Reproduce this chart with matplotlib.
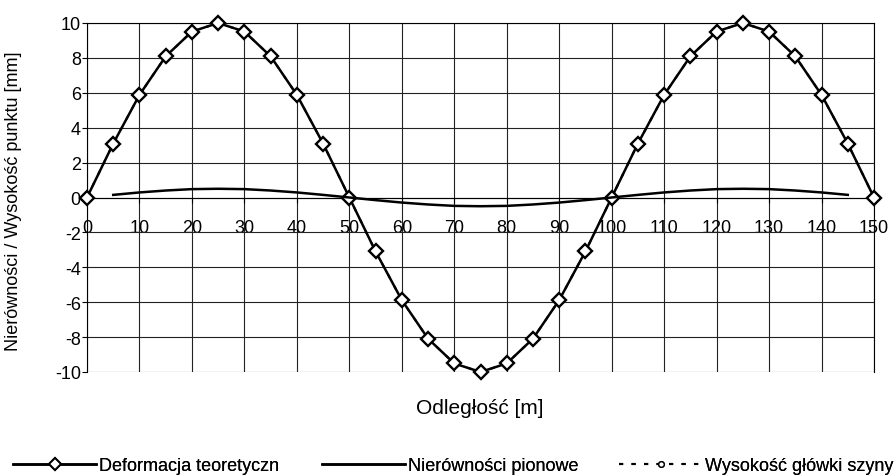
import matplotlib
matplotlib.use("Agg")
import matplotlib.pyplot as plt
from matplotlib.lines import Line2D

plt.rcParams['font.family'] = ['Liberation Sans', 'DejaVu Sans']
plt.rcParams['axes.unicode_minus'] = False

x = [0, 5, 10, 15, 20, 25, 30, 35, 40, 45, 50, 55, 60, 65, 70, 75, 80, 85, 90, 95,
     100, 105, 110, 115, 120, 125, 130, 135, 140, 145, 150]
deformacja = [0, 3.09, 5.88, 8.09, 9.51, 10, 9.51, 8.09, 5.88, 3.09,
              0, -3.09, -5.88, -8.09, -9.51, -10, -9.51, -8.09, -5.88, -3.09,
              0, 3.09, 5.88, 8.09, 9.51, 10, 9.51, 8.09, 5.88, 3.09, 0]
x_nier = [5, 10, 15, 20, 25, 30, 35, 40, 45, 50, 55, 60, 65, 70, 75, 80, 85, 90, 95,
          100, 105, 110, 115, 120, 125, 130, 135, 140, 145]
nierownosci = [0.15, 0.29, 0.40, 0.48, 0.50, 0.48, 0.40, 0.29, 0.15,
               0, -0.15, -0.29, -0.40, -0.48, -0.50, -0.48, -0.40, -0.29, -0.15,
               0, 0.15, 0.29, 0.40, 0.48, 0.50, 0.48, 0.40, 0.29, 0.15]
wysokosc = deformacja

x_ticks = list(range(0, 151, 10))
y_ticks = list(range(-10, 11, 2))
labels = ['Deformacja teoretyczn', 'Nierówności pionowe', 'Wysokość główki szyny']

fig = plt.figure(figsize=(8.96, 4.77), dpi=100)
ax = fig.add_axes([87/896, 1-373/477, (874-87)/896, (373-24)/477])

ax.plot(x, wysokosc, color='black', lw=1.5, ls=(0, (2, 4)), marker='o', ms=4,
        mfc='white', mec='black', zorder=2, clip_on=False)
ax.plot(x, deformacja, color='black', lw=1.8, marker='D', ms=7.5,
        mfc='white', mec='black', mew=1.7, zorder=3, clip_on=False)
ax.plot(x_nier, nierownosci, color='black', lw=1.8, zorder=4, clip_on=False)

ax.set_xlim(0, 150)
ax.set_ylim(-10, 10)
ax.set_xticks(x_ticks)
ax.set_yticks(y_ticks)
ax.grid(True, color='#222222', lw=0.8)
for s in ['top', 'right', 'left']:
    ax.spines[s].set_linewidth(0.8)
ax.spines['bottom'].set_position(('data', 0))
ax.spines['bottom'].set_linewidth(0.8)
ax.tick_params(axis='both', labelsize=13, direction='out', length=3.5, width=0.8)
ax.tick_params(axis='x', pad=12)
ax.tick_params(axis='y', pad=1)
ax.set_axisbelow(True)

fig.text(14/896, 1-201/477, 'Nierówności / Wysokość punktu [mm]', rotation=90,
         ha='center', va='center', fontsize=13)
fig.text(480/896, 1-409/477, 'Odległość [m]', ha='center', va='center', fontsize=15)

handles = [
    Line2D([], [], color='black', lw=1.8, marker='D', ms=6, mfc='white', mec='black', mew=1.4),
    Line2D([], [], color='black', lw=1.8),
    Line2D([], [], color='black', lw=1.5, ls=(0, (2, 4)), marker='o', ms=4, mfc='white', mec='black'),
]
starts = [13, 322, 619]
for h, lab, sx in zip(handles, labels, starts):
    leg = fig.legend([h], [lab], loc='center left', bbox_to_anchor=(sx/896, 1-467/477),
                     frameon=False, fontsize=13, handlelength=4.6, handletextpad=0.15,
                     borderpad=0, borderaxespad=0)
    fig.add_artist(leg)

fig.savefig('out.png', dpi=100)
